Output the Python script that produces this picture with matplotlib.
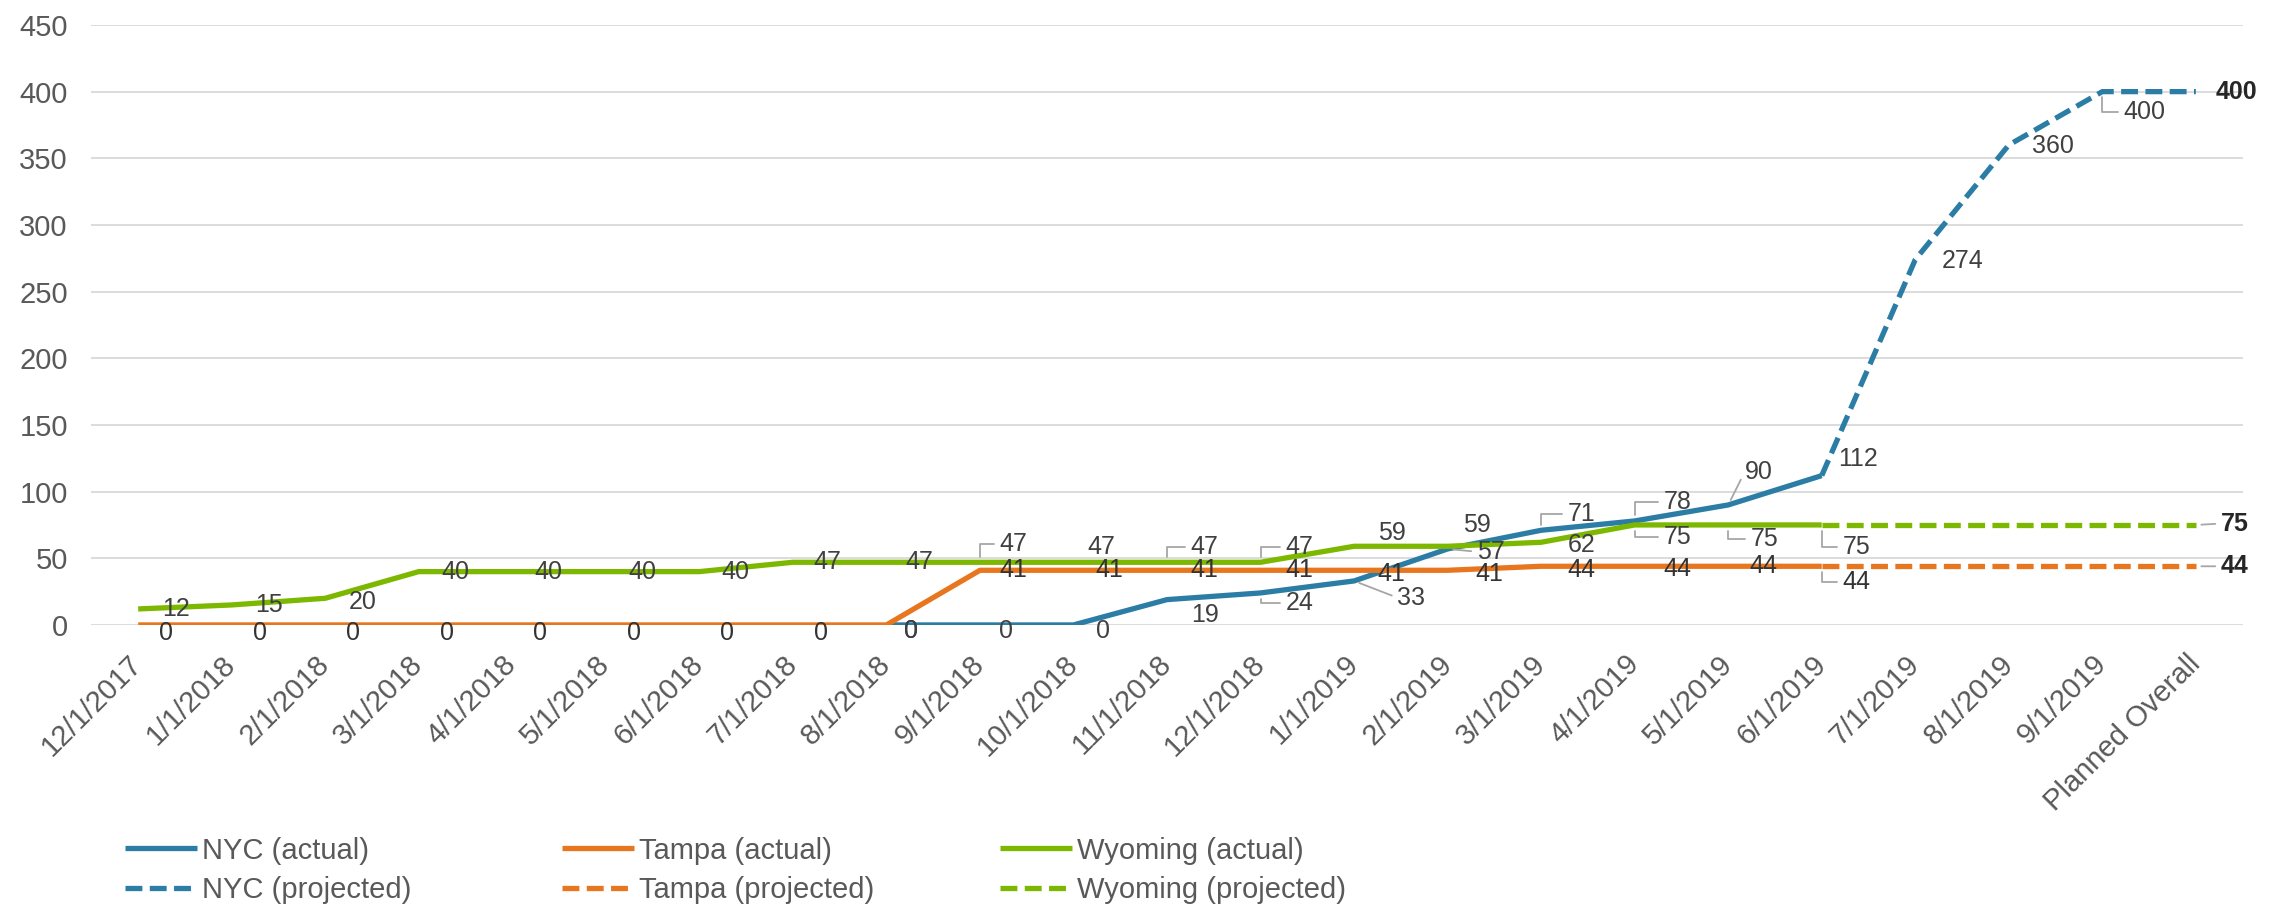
import numpy as np
import matplotlib
matplotlib.use('Agg')
import matplotlib.pyplot as plt
from matplotlib.transforms import ScaledTranslation

nan = np.nan

# ---------------- data ----------------
categories = ['12/1/2017', '1/1/2018', '2/1/2018', '3/1/2018', '4/1/2018', '5/1/2018',
              '6/1/2018', '7/1/2018', '8/1/2018', '9/1/2018', '10/1/2018', '11/1/2018',
              '12/1/2018', '1/1/2019', '2/1/2019', '3/1/2019', '4/1/2019', '5/1/2019',
              '6/1/2019', '7/1/2019', '8/1/2019', '9/1/2019', 'Planned Overall']

nyc_actual = [nan, nan, nan, nan, nan, nan, nan, nan, 0, 0, 0, 19, 24, 33, 57, 71, 78, 90, 112,
              nan, nan, nan, nan]
tampa_actual = [0, 0, 0, 0, 0, 0, 0, 0, 0, 41, 41, 41, 41, 41, 41, 44, 44, 44, 44,
                nan, nan, nan, nan]
wyoming_actual = [12, 15, 20, 40, 40, 40, 40, 47, 47, 47, 47, 47, 47, 59, 59, 62, 75, 75, 75,
                  nan, nan, nan, nan]
nyc_projected = [nan, nan, nan, nan, nan, nan, nan, nan, nan, nan, nan, nan, nan, nan, nan, nan,
                 nan, nan, 112, 274, 360, 400, 400]
tampa_projected = [nan, nan, nan, nan, nan, nan, nan, nan, nan, nan, nan, nan, nan, nan, nan, nan,
                   nan, nan, 44, 44, 44, 44, 44]
wyoming_projected = [nan, nan, nan, nan, nan, nan, nan, nan, nan, nan, nan, nan, nan, nan, nan, nan,
                     nan, nan, 75, 75, 75, 75, 75]

y_ticks = [0, 50, 100, 150, 200, 250, 300, 350, 400, 450]

# ---------------- style ----------------
plt.rcParams['font.family'] = ['Liberation Sans', 'DejaVu Sans']
BLUE = '#2C7DA5'
ORANGE = '#E8761E'
GREEN = '#7DB800'
TICK_C = '#595959'
LAB_C = '#404040'
LEAD_C = '#A6A6A6'

fig = plt.figure(figsize=(22.74, 9.11), dpi=100)
ax = fig.add_axes([0.0402, 0.314, 0.946, 0.6586])
x = np.arange(len(categories))

LW = 3.8
dash = (0, (3.2, 1.4))
h_nyc_a, = ax.plot(x, nyc_actual, color=BLUE, lw=LW, solid_capstyle='butt', label='NYC (actual)', zorder=3)
h_nyc_p, = ax.plot(x, nyc_projected, color=BLUE, lw=LW, ls=dash, dash_capstyle='butt', label='NYC (projected)', zorder=3)
h_ta_a, = ax.plot(x, tampa_actual, color=ORANGE, lw=LW, solid_capstyle='butt', label='Tampa (actual)', zorder=3)
h_ta_p, = ax.plot(x, tampa_projected, color=ORANGE, lw=LW, ls=dash, dash_capstyle='butt', label='Tampa (projected)', zorder=3)
h_wy_a, = ax.plot(x, wyoming_actual, color=GREEN, lw=LW, solid_capstyle='butt', label='Wyoming (actual)', zorder=3)
h_wy_p, = ax.plot(x, wyoming_projected, color=GREEN, lw=LW, ls=dash, dash_capstyle='butt', label='Wyoming (projected)', zorder=3)

ax.set_xlim(-0.5, len(categories) - 0.5)
ax.set_ylim(0, 450)
ax.set_yticks(y_ticks)
ax.set_xticks(x)
ax.set_xticklabels(categories, rotation=45, ha='right', va='top', rotation_mode='anchor')
ax.tick_params(axis='x', length=0, pad=18, labelsize=21, labelcolor=TICK_C)
ax.tick_params(axis='y', length=0, pad=17, labelsize=21, labelcolor=TICK_C)
shift = ScaledTranslation(-10 / 100, 0, fig.dpi_scale_trans)
for t in ax.get_xticklabels():
    t.set_transform(t.get_transform() + shift)
ax.yaxis.grid(True, color='#D9D9D9', lw=1.3)
ax.set_axisbelow(True)
for s in ax.spines.values():
    s.set_visible(False)

# ---------------- data labels ----------------
FS = 18


def label(series, i, dx, dy, leader=None, bold=False, color=LAB_C):
    v = series[i]
    txt = '%d' % v
    kw = dict(xy=(i, v), xytext=(dx, dy), textcoords='offset points', ha='left', va='center',
              fontsize=FS, color=('#262626' if bold else color),
              fontweight=('bold' if bold else 'normal'), zorder=5)
    if leader == 'L':
        kw['arrowprops'] = dict(arrowstyle='-', color=LEAD_C, lw=1.3, shrinkA=2, shrinkB=4,
                                relpos=(0, 0.5),
                                connectionstyle='angle,angleA=0,angleB=90,rad=0')
    elif leader == 's':
        kw['arrowprops'] = dict(arrowstyle='-', color=LEAD_C, lw=1.3, shrinkA=2, shrinkB=4,
                                relpos=(0, 0.5))
    ax.annotate(txt, **kw)


# Wyoming
wy_pos = {0: (17, 0), 1: (17, 0), 2: (17, -3), 3: (16, 0), 4: (16, 0), 5: (16, 0), 6: (16, 0),
          7: (15, 0), 8: (14, 0), 9: (14, 13, 'L'), 10: (10, 11), 11: (17, 11, 'L'),
          12: (18, 11, 'L'), 13: (17, 9.5), 14: (11, 15), 15: (19, -2), 16: (21, -9, 'L'),
          17: (16, -10, 'L'), 18: (15, -16, 'L')}
for i, p in wy_pos.items():
    label(wyoming_actual, i, p[0], p[1], p[2] if len(p) > 2 else None)
label(wyoming_projected, 22, 18, 1, 's', bold=True)

# Tampa
ta_pos = {0: (15, -6), 1: (15, -6), 2: (15, -6), 3: (15, -6), 4: (15, -6), 5: (15, -6),
          6: (15, -6), 7: (15, -6), 8: (13, -4), 9: (14, 0), 10: (16, 0), 11: (17, 0),
          12: (18, 0), 13: (17, -3), 14: (20, -3), 15: (19, -3), 16: (21, -2), 17: (15, 0),
          18: (15, -11, 'L')}
for i, p in ta_pos.items():
    label(tampa_actual, i, p[0], p[1], p[2] if len(p) > 2 else None, color='#333333')
label(tampa_projected, 22, 18, 0, 's', bold=True)

# NYC
ny_pos = {8: (13, -4), 9: (14, -4), 10: (16, -4), 11: (17, -11), 12: (18, -7, 'L'),
          13: (31, -12, 's'), 14: (21, -2, 's'), 15: (19, 12, 'L'), 16: (21, 14, 'L'),
          17: (12, 24, 's')}
for i, p in ny_pos.items():
    label(nyc_actual, i, p[0], p[1], p[2] if len(p) > 2 else None)
ny_proj_pos = {18: (12, 12), 19: (19, -1), 20: (17, -1), 21: (15, -15, 'L')}
for i, p in ny_proj_pos.items():
    label(nyc_projected, i, p[0], p[1], p[2] if len(p) > 2 else None)
label(nyc_projected, 22, 14, 0, None, bold=True)

# ---------------- legend (three columns, Excel-like equal spacing) ----------------
cols = [([h_nyc_a, h_nyc_p], 125), ([h_ta_a, h_ta_p], 562), ([h_wy_a, h_wy_p], 1000)]
for hs, px in cols:
    fig.legend(hs, [h.get_label() for h in hs], loc='center left',
               bbox_to_anchor=(px / 2274, 0.0445), ncol=1, frameon=False, fontsize=21,
               handlelength=2.47, handletextpad=0.17, labelspacing=0.4, borderpad=0,
               borderaxespad=0, labelcolor=TICK_C)

fig.savefig('out.png', dpi=100)
